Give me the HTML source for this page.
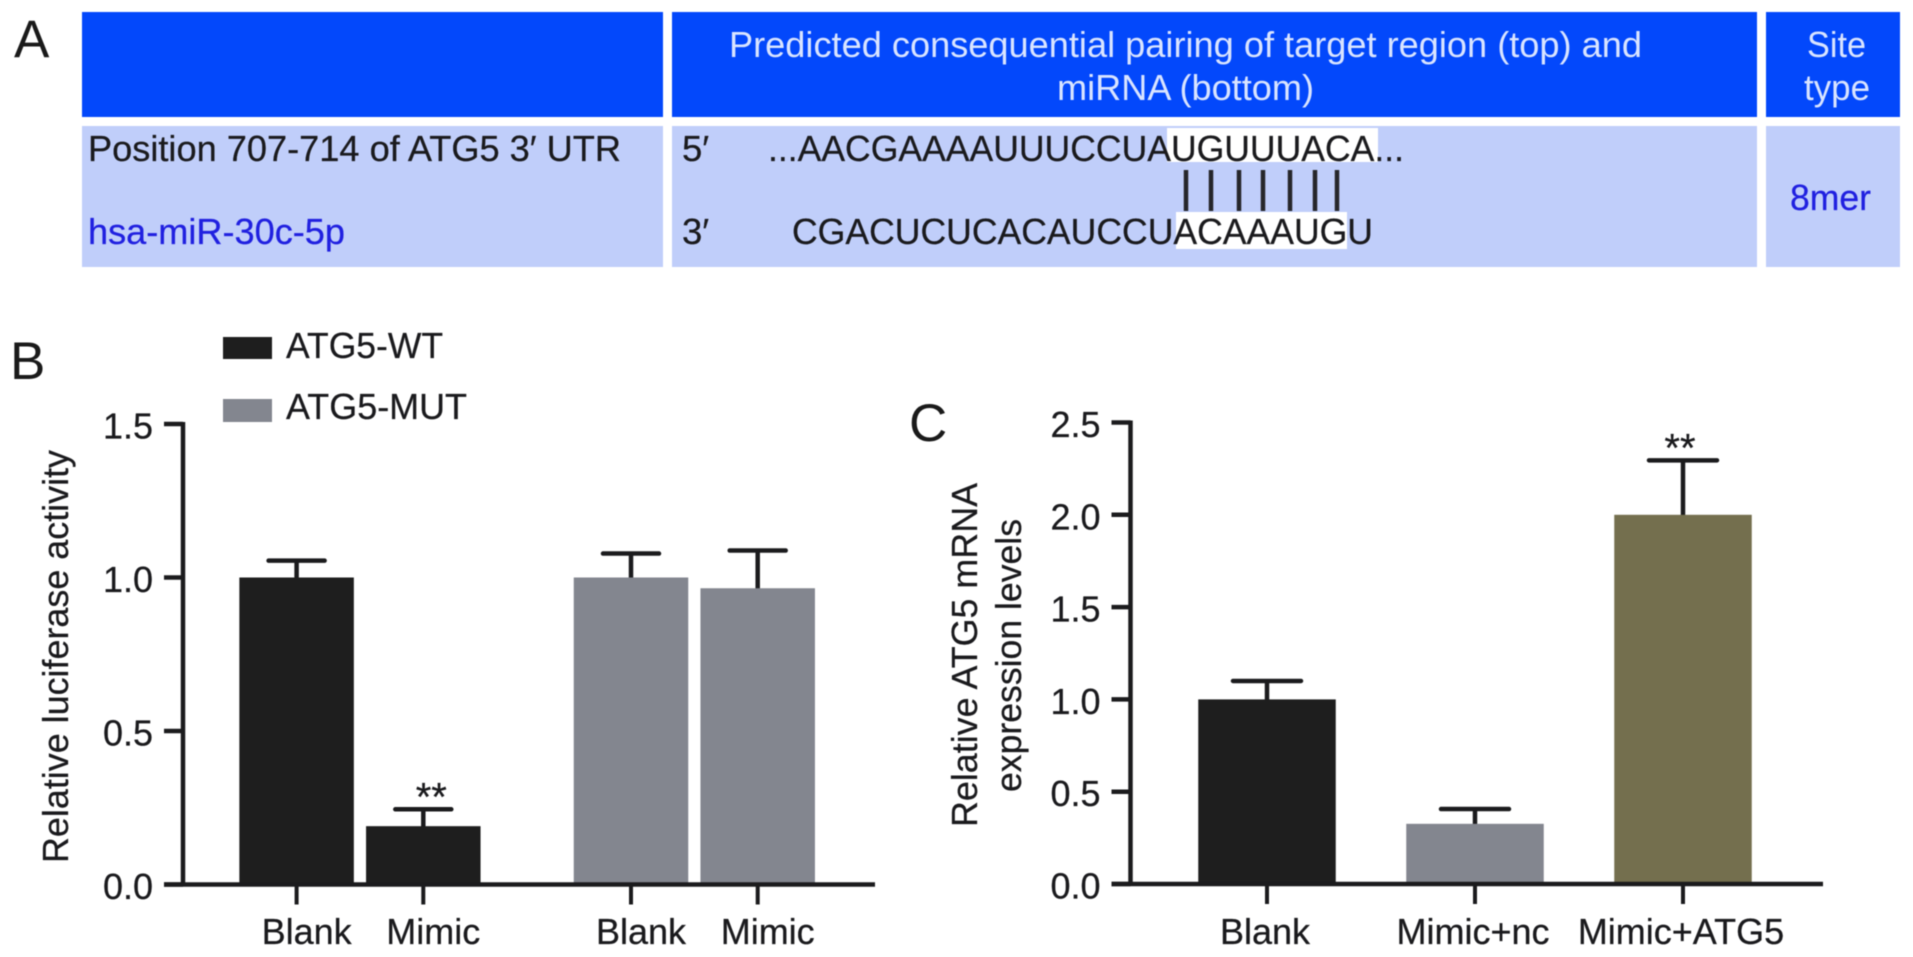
<!DOCTYPE html>
<html lang="en">
<head>
<meta charset="utf-8">
<title>ATG5 miR-30c-5p figure</title>
<style>
html,body{margin:0;padding:0;background:#fff;width:1913px;height:957px;overflow:hidden}
svg{display:block;position:absolute;left:0;top:0;filter:blur(0.55px)}
text{font-family:"Liberation Sans",sans-serif;fill:#1a1a1d;stroke:#1a1a1d;stroke-width:0.25px}
.hd{fill:#d9e4ff;stroke:none;font-size:36.5px}
.bl{fill:#2020e0;stroke:#2020e0;font-size:36.5px}
.sq{font-size:36.5px}
.pl{font-size:53px;fill:#1a1a1a;stroke:none}
</style>
</head>
<body>
<svg id="fig" xmlns="http://www.w3.org/2000/svg" width="1913" height="957" viewBox="0 0 1913 957">
  <rect x="0" y="0" width="1913" height="957" fill="#ffffff"/>

  <g>
    <text class="pl" x="14" y="57">A</text>
    <rect x="82" y="12" width="581" height="105" fill="#0348fb"/>
    <rect x="672" y="12" width="1085" height="105" fill="#0348fb"/>
    <rect x="1766" y="12" width="134" height="105" fill="#0348fb"/>
    <rect x="82" y="126" width="581" height="141" fill="#c0cefa"/>
    <rect x="672" y="126" width="1085" height="141" fill="#c0cefa"/>
    <rect x="1766" y="126" width="134" height="141" fill="#c0cefa"/>

    <text class="hd" x="729" y="57" textLength="913" lengthAdjust="spacingAndGlyphs">Predicted consequential pairing of target region (top) and</text>
    <text class="hd" x="1057" y="100" textLength="257" lengthAdjust="spacingAndGlyphs">miRNA (bottom)</text>
    <text class="hd" x="1807" y="57" textLength="59" lengthAdjust="spacingAndGlyphs">Site</text>
    <text class="hd" x="1804" y="100" textLength="66" lengthAdjust="spacingAndGlyphs">type</text>

    <text class="sq" x="88" y="161" textLength="533" lengthAdjust="spacingAndGlyphs">Position 707-714 of ATG5 3′ UTR</text>
    <text class="bl" x="88" y="244" textLength="257" lengthAdjust="spacingAndGlyphs">hsa-miR-30c-5p</text>
    <text class="bl" x="1790" y="210" textLength="81" lengthAdjust="spacingAndGlyphs">8mer</text>

    <rect x="1167" y="128" width="211" height="34" fill="#ffffff"/>
    <rect x="1176" y="212" width="171" height="37" fill="#ffffff"/>
    <text class="sq" x="682" y="161">5′</text>
    <text class="sq" x="682" y="244">3′</text>
    <text class="sq" x="768" y="161" textLength="636" lengthAdjust="spacingAndGlyphs">...AACGAAAAUUUCCUAUGUUUACA...</text>
    <text class="sq" x="792" y="244" textLength="581" lengthAdjust="spacingAndGlyphs">CGACUCUCACAUCCUACAAAUGU</text>
    <g stroke="#26262a" stroke-width="4.5">
      <line x1="1186" y1="170" x2="1186" y2="211"/>
      <line x1="1211" y1="170" x2="1211" y2="211"/>
      <line x1="1239" y1="170" x2="1239" y2="211"/>
      <line x1="1263" y1="170" x2="1263" y2="211"/>
      <line x1="1290" y1="170" x2="1290" y2="211"/>
      <line x1="1315" y1="170" x2="1315" y2="211"/>
      <line x1="1337" y1="170" x2="1337" y2="211"/>
    </g>
  </g>

  <g id="panel-b">
    <text class="pl" x="10" y="379">B</text>
    <rect x="223" y="337" width="49" height="22" fill="#1e1e1e"/>
    <text class="sq" x="286" y="358" textLength="157" lengthAdjust="spacingAndGlyphs">ATG5-WT</text>
    <rect x="223" y="399" width="49" height="23" fill="#83868f"/>
    <text class="sq" x="286" y="419" textLength="181" lengthAdjust="spacingAndGlyphs">ATG5-MUT</text>
    <text class="sq" transform="translate(68 863) rotate(-90)" x="0" y="0" textLength="413" lengthAdjust="spacingAndGlyphs">Relative luciferase activity</text>
  </g>

  <g id="panel-c">
    <text class="pl" x="909" y="441">C</text>
    <text class="sq" transform="translate(977 827) rotate(-90)" x="0" y="0" textLength="344" lengthAdjust="spacingAndGlyphs">Relative ATG5 mRNA</text>
    <text class="sq" transform="translate(1021 792) rotate(-90)" x="0" y="0" textLength="273" lengthAdjust="spacingAndGlyphs">expression levels</text>
  </g>
</svg>

<script>
// Panel B data
var categoriesB = ['Blank', 'Mimic', 'Blank', 'Mimic'];
var valuesB = [1.0, 0.19, 1.0, 0.965];
var errorTopsB = [1.055, 0.245, 1.078, 1.088];
var seriesB = ['wt', 'wt', 'mut', 'mut'];
var significanceB = ['', '**', '', ''];
var ticksB = [0.0, 0.5, 1.0, 1.5];

// Panel C data
var categoriesC = ['Blank', 'Mimic+nc', 'Mimic+ATG5'];
var valuesC = [1.0, 0.326, 2.0];
var errorTopsC = [1.1, 0.406, 2.295];
var seriesC = ['blank', 'nc', 'atg5'];
var significanceC = ['', '', '**'];
var ticksC = [0.0, 0.5, 1.0, 1.5, 2.0, 2.5];

var colors = {wt: '#1e1e1e', mut: '#83868f', blank: '#1e1e1e', nc: '#83868f', atg5: '#746f4e'};
var NS = 'http://www.w3.org/2000/svg';
var INK = '#1b1b1d';

function make(parent, tag, attrs, txt) {
  var el = document.createElementNS(NS, tag);
  for (var k in attrs) el.setAttribute(k, attrs[k]);
  if (txt !== undefined) el.textContent = txt;
  parent.appendChild(el);
  return el;
}

function drawChart(cfg) {
  var g = cfg.root;
  var yScale = function (v) { return cfg.y0 - (v / cfg.yMax) * (cfg.y0 - cfg.yTop); };

  // bars first so the axis sits on top
  cfg.categories.forEach(function (cat, i) {
    var cx = cfg.xScale(i);
    var top = yScale(cfg.values[i]);
    var errY = yScale(cfg.errors[i]);

    var stem = make(g, 'line', {x1: cx, x2: cx, y1: errY, y2: top + 1, stroke: INK, 'stroke-width': 4.5});
    
    

    var cap = make(g, 'line', {x1: cx - cfg.capW / 2, x2: cx + cfg.capW / 2, y1: errY, y2: errY, stroke: INK, 'stroke-width': 4.5, 'stroke-linecap': 'round'});
    
    

    var bar = make(g, 'rect', {x: cx - cfg.barW / 2, y: top, width: cfg.barW, height: cfg.y0 - top, fill: colors[cfg.series[i]]});
    
    

    var tick = make(g, 'line', {x1: cx, x2: cx, y1: cfg.y0, y2: cfg.y0 + 20, stroke: INK, 'stroke-width': 4});
    
    

    var lab = make(g, 'text', {x: cx + cfg.labelShift, y: 944, 'text-anchor': 'middle', 'font-size': 36}, cat);
    
    

    if (cfg.significance[i]) {
      var star = make(g, 'text', {x: cx + cfg.starShift, y: errY + 1, 'text-anchor': 'middle', 'font-size': 40}, cfg.significance[i]);
      
      
    }
  });

  var yAxis = make(g, 'line', {x1: cfg.axisX, x2: cfg.axisX, y1: cfg.yTop - 2, y2: cfg.y0 + 2, stroke: INK, 'stroke-width': 4.5});
  
  

  var xAxis = make(g, 'line', {x1: cfg.axisX - 19, x2: cfg.axisEnd, y1: cfg.y0, y2: cfg.y0, stroke: INK, 'stroke-width': 4.5});
  
  

  cfg.ticks.forEach(function (t) {
    var y = yScale(t);
    var tk = make(g, 'line', {x1: cfg.axisX - 19, x2: cfg.axisX, y1: y, y2: y, stroke: INK, 'stroke-width': 4.5});
    
    

    var lb = make(g, 'text', {x: cfg.axisX - 30, y: y + 14.5, 'text-anchor': 'end', 'font-size': 36}, t.toFixed(1));
    
    
  });
}

drawChart({
  root: document.getElementById('panel-b'),
  categories: categoriesB, values: valuesB, errors: errorTopsB,
  series: seriesB, significance: significanceB, ticks: ticksB,
  y0: 884.5, yTop: 424, yMax: 1.5,
  axisX: 183, axisEnd: 875,
  barW: 114.5, capW: 56, labelShift: 10, starShift: 8,
  xScale: function (i) { return 296.6 + 126.7 * i + (i >= 2 ? 81 : 0); }
});

drawChart({
  root: document.getElementById('panel-c'),
  categories: categoriesC, values: valuesC, errors: errorTopsC,
  series: seriesC, significance: significanceC, ticks: ticksC,
  y0: 884, yTop: 422.5, yMax: 2.5,
  axisX: 1130.5, axisEnd: 1823,
  barW: 137.5, capW: 68, labelShift: -2, starShift: -3,
  xScale: function (i) { return 1267 + 208 * i; }
});
</script>
</body>
</html>
